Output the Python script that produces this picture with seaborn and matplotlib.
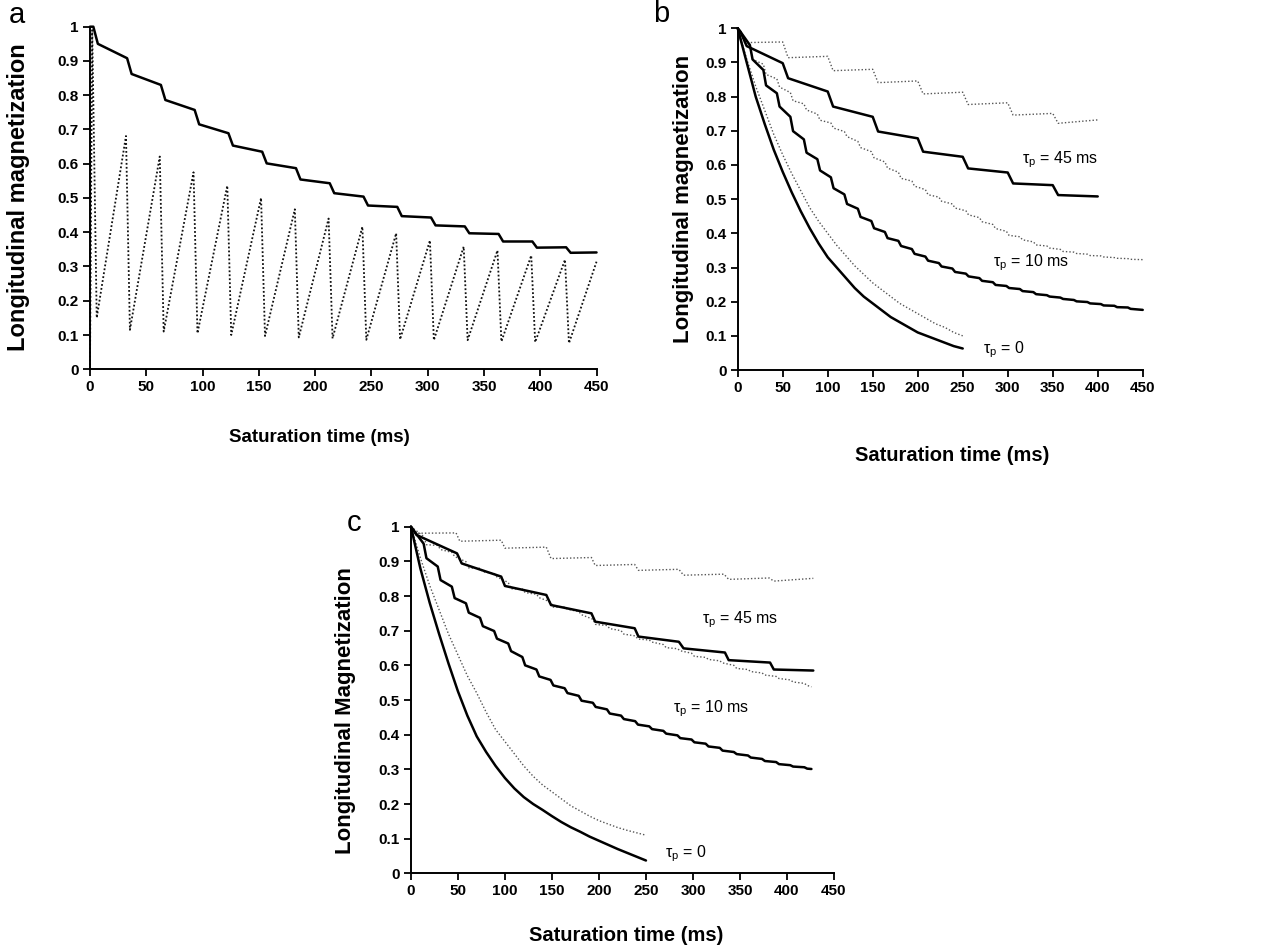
import numpy as np
import matplotlib
matplotlib.use("Agg")
import matplotlib.pyplot as plt
import seaborn as sns

# ---------------- values ----------------
x_ticks = [0, 50, 100, 150, 200, 250, 300, 350, 400, 450]
y_ticks = [0, 0.1, 0.2, 0.3, 0.4, 0.5, 0.6, 0.7, 0.8, 0.9, 1.0]
y_ticklabels = ['0', '0.1', '0.2', '0.3', '0.4', '0.5', '0.6', '0.7', '0.8', '0.9', '1']

# panel a
a_solid_t = [0, 3, 7, 33, 37, 63, 67, 93, 97, 123, 127, 153, 157, 183, 187, 213, 217,
             243, 247, 273, 277, 303, 307, 333, 337, 363, 367, 393, 397, 423, 427, 450]
a_solid_v = [1.0, 1.0, 0.950, 0.908, 0.862, 0.830, 0.786, 0.757, 0.715, 0.689, 0.653,
             0.635, 0.601, 0.587, 0.554, 0.543, 0.514, 0.504, 0.478, 0.474, 0.447, 0.443,
             0.420, 0.417, 0.397, 0.395, 0.373, 0.373, 0.355, 0.356, 0.340, 0.341]
a_dot_t = [0, 2, 6, 32, 35.5, 62, 65.5, 92, 95.5, 122, 125.5, 152, 155.5, 182, 185.5,
           212, 215.5, 242, 245.5, 272, 275.5, 302, 305.5, 332, 335.5, 362, 365.5, 392,
           395.5, 422, 425.5, 450]
a_dot_v = [0.0, 0.99, 0.15, 0.681, 0.115, 0.621, 0.11, 0.575, 0.105, 0.536, 0.10, 0.50,
           0.097, 0.467, 0.093, 0.44, 0.09, 0.416, 0.086, 0.397, 0.087, 0.376, 0.085,
           0.358, 0.085, 0.347, 0.081, 0.332, 0.079, 0.320, 0.076, 0.314]

# smooth tau_p = 0 curves (b and c), sampled every 10 ms
t0_t = [0, 10, 20, 30, 40, 50, 60, 70, 80, 90, 100, 110, 120, 130, 140, 150, 160, 170,
        180, 190, 200, 210, 220, 230, 240, 250]
b0_solid = [1.00, 0.90, 0.80, 0.72, 0.645, 0.58, 0.52, 0.465, 0.415, 0.37, 0.33, 0.30,
            0.27, 0.24, 0.215, 0.195, 0.175, 0.155, 0.14, 0.125, 0.11, 0.10, 0.09, 0.08,
            0.07, 0.063]
b0_dot = [1.00, 0.91, 0.83, 0.76, 0.69, 0.63, 0.575, 0.525, 0.475, 0.435, 0.40, 0.365,
          0.335, 0.305, 0.28, 0.255, 0.235, 0.215, 0.195, 0.18, 0.165, 0.15, 0.135, 0.125,
          0.11, 0.10]
c0_solid = [1.00, 0.88, 0.78, 0.69, 0.605, 0.525, 0.455, 0.395, 0.35, 0.31, 0.275, 0.245,
            0.22, 0.20, 0.183, 0.165, 0.148, 0.133, 0.12, 0.106, 0.094, 0.082, 0.07, 0.059,
            0.048, 0.037]
c0_dot = [1.00, 0.91, 0.83, 0.76, 0.69, 0.63, 0.57, 0.52, 0.465, 0.415, 0.38, 0.345, 0.31,
          0.28, 0.255, 0.235, 0.215, 0.195, 0.18, 0.165, 0.152, 0.142, 0.132, 0.124, 0.117,
          0.11]

# tau_p = 45 ms staircases
b45_solid_t = [0, 3, 10, 50, 56, 100, 106, 150, 156, 200, 206, 250, 256, 300, 306, 350, 356, 400]
b45_solid_v = [1.0, 0.99, 0.948, 0.898, 0.854, 0.815, 0.771, 0.741, 0.698, 0.678, 0.639,
               0.624, 0.590, 0.578, 0.546, 0.541, 0.512, 0.508]
b45_dot_t = [0, 4, 50, 56, 100, 106, 150, 156, 200, 206, 250, 256, 300, 306, 350, 356, 400]
b45_dot_v = [1.0, 0.958, 0.960, 0.914, 0.918, 0.876, 0.880, 0.841, 0.846, 0.808, 0.813,
             0.777, 0.782, 0.746, 0.751, 0.722, 0.732]
c45_solid_t = [0, 6, 49, 54, 96, 100, 144, 149, 192, 196, 238, 242, 285, 290, 334, 338, 382, 386, 428]
c45_solid_v = [1.0, 0.976, 0.923, 0.894, 0.856, 0.829, 0.803, 0.774, 0.750, 0.726, 0.707,
               0.683, 0.668, 0.649, 0.637, 0.615, 0.608, 0.588, 0.585]
c45_top_t = [0, 5, 48, 52, 96, 100, 144, 149, 192, 196, 238, 242, 285, 290, 333, 338, 381, 386, 428]
c45_top_v = [1.0, 0.981, 0.982, 0.958, 0.961, 0.938, 0.941, 0.908, 0.911, 0.888, 0.891,
             0.874, 0.877, 0.860, 0.863, 0.848, 0.852, 0.843, 0.851]

# fine staircases (tau_p = 10 ms etc.): value just before / after each small drop
steps_b = [15, 30, 45, 60, 75, 90, 105, 120, 135, 150, 165, 180, 195, 210, 225, 240, 255,
           270, 285, 300, 315, 330, 345, 360, 375, 390, 405, 420, 435]
b10_solid_hi = [.951, .878, .810, .741, .675, .617, .564, .514, .472, .436, .404, .378, .354,
                .332, .313, .297, .282, .269, .257, .246, .237, .228, .219, .212, .205, .199,
                .193, .188, .183]
b10_solid_lo = [.909, .833, .771, .699, .636, .584, .532, .486, .448, .415, .386, .363, .340,
                .320, .303, .287, .274, .261, .249, .240, .231, .222, .215, .208, .201, .195,
                .189, .184, .179]
b10_dot_hi = [.951, .895, .852, .812, .779, .749, .723, .698, .669, .639, .609, .579, .553,
              .528, .506, .486, .466, .446, .426, .406, .390, .375, .363, .353, .345, .339,
              .334, .329, .326]
b10_dot_lo = [.909, .865, .828, .788, .761, .731, .708, .683, .651, .621, .591, .561, .538,
              .513, .494, .474, .454, .434, .414, .394, .381, .366, .357, .347, .341, .335,
              .331, .327, .324]

steps_c = [15, 30, 45, 60, 75, 90, 105, 120, 135, 150, 165, 180, 195, 210, 225, 240, 255,
           270, 285, 300, 315, 330, 345, 360, 375, 390, 405, 420]
c10_solid_hi = [.951, .885, .827, .779, .737, .699, .663, .624, .588, .558, .534, .512, .492,
                .473, .455, .439, .424, .411, .398, .386, .374, .362, .350, .340, .330, .321,
                .312, .306]
c10_solid_lo = [.909, .846, .794, .752, .713, .677, .641, .600, .568, .542, .520, .498, .480,
                .461, .445, .429, .416, .403, .390, .378, .366, .354, .344, .334, .324, .315,
                .308, .302]
c45_dot_hi = [.972, .946, .926, .899, .880, .865, .839, .820, .805, .783, .768, .755, .733,
              .715, .700, .685, .673, .660, .648, .635, .623, .613, .600, .588, .578, .568,
              .558, .548]
c45_dot_lo = [.948, .934, .914, .881, .870, .855, .821, .810, .795, .768, .762, .746, .718,
              .706, .690, .676, .667, .651, .642, .626, .617, .607, .591, .582, .572, .562,
              .552, .542]


def stairs(start_t, start_v, steps, hi, lo, end_t, end_v, w=3.0):
    xs, ys = list(start_t), list(start_v)
    for s, h, l in zip(steps, hi, lo):
        xs += [s - w / 2, s + w / 2]
        ys += [h, l]
    xs.append(end_t)
    ys.append(end_v)
    return np.array(xs), np.array(ys)


b10s_x, b10s_y = stairs([0, 3], [1.0, 0.99], steps_b, b10_solid_hi, b10_solid_lo, 450, 0.176)
b10d_x, b10d_y = stairs([0, 3], [1.0, 0.99], steps_b, b10_dot_hi, b10_dot_lo, 450, 0.323)
c10s_x, c10s_y = stairs([0], [1.0], steps_c, c10_solid_hi, c10_solid_lo, 426, 0.301)
c45d_x, c45d_y = stairs([0], [1.0], steps_c, c45_dot_hi, c45_dot_lo, 426, 0.538)

# ---------------- drawing ----------------
sns.set_style("ticks")
plt.rcParams['font.family'] = ['Liberation Sans', 'DejaVu Sans']
plt.rcParams.update({'text.color': 'black', 'axes.labelcolor': 'black',
                     'xtick.color': 'black', 'ytick.color': 'black',
                     'axes.edgecolor': 'black'})

fig = plt.figure(figsize=(12.87, 9.5), dpi=100)
ax_a = fig.add_axes([0.0699, 0.6113, 0.3936, 0.3606])
ax_b = fig.add_axes([0.5732, 0.6105, 0.3147, 0.3597])
ax_c = fig.add_axes([0.3193, 0.0807, 0.3287, 0.3649])

SOLID = dict(color='black', linewidth=1.8, linestyle='-')
DOT_A = dict(color='#111111', linewidth=1.3, linestyle=(0, (1, 1.2)))
DOT = dict(color='#555555', linewidth=1.0, linestyle=(0, (1, 1.5)))


def line(ax, x, y, style):
    sns.lineplot(x=np.asarray(x), y=np.asarray(y), ax=ax, sort=False, estimator=None,
                 clip_on=False, **style)


line(ax_a, a_dot_t, a_dot_v, DOT_A)
line(ax_a, a_solid_t, a_solid_v, SOLID)

line(ax_b, b45_dot_t, b45_dot_v, DOT)
line(ax_b, b10d_x, b10d_y, DOT)
line(ax_b, t0_t, b0_dot, DOT)
line(ax_b, b45_solid_t, b45_solid_v, SOLID)
line(ax_b, b10s_x, b10s_y, SOLID)
line(ax_b, t0_t, b0_solid, SOLID)

line(ax_c, c45_top_t, c45_top_v, DOT)
line(ax_c, c45d_x, c45d_y, DOT)
line(ax_c, t0_t, c0_dot, DOT)
line(ax_c, c45_solid_t, c45_solid_v, SOLID)
line(ax_c, c10s_x, c10s_y, SOLID)
line(ax_c, t0_t, c0_solid, SOLID)

tp = 'τ$_\\mathregular{p}$'
ax_b.text(316, 0.615, tp + ' = 45 ms', fontsize=11.5, va='center')
ax_b.text(284, 0.315, tp + ' = 10 ms', fontsize=11.5, va='center')
ax_b.text(273, 0.06, tp + ' = 0', fontsize=11.5, va='center')
ax_c.text(310, 0.733, tp + ' = 45 ms', fontsize=11.5, va='center')
ax_c.text(279, 0.474, tp + ' = 10 ms', fontsize=11.5, va='center')
ax_c.text(270, 0.058, tp + ' = 0', fontsize=11.5, va='center')

ylabels = {ax_a: 'Longitudinal magnetization', ax_b: 'Longitudinal magnetization',
           ax_c: 'Longitudinal Magnetization'}
ylab_size = {ax_a: 17, ax_b: 16, ax_c: 16}
xlab_size = {ax_a: 13.5, ax_b: 14.5, ax_c: 14.5}
ylab_pos = {ax_a: (-0.142, 0.503), ax_b: (-0.135, 0.5), ax_c: (-0.154, 0.47)}
xlab_pos = {ax_a: (0.452, -0.2), ax_b: (0.53, -0.249), ax_c: (0.508, -0.178)}

for ax in (ax_a, ax_b, ax_c):
    ax.set_xlim(0, 450)
    ax.set_ylim(0, 1)
    ax.set_xticks(x_ticks)
    ax.set_xticklabels([str(v) for v in x_ticks])
    ax.set_yticks(y_ticks)
    ax.set_yticklabels(y_ticklabels)
    sns.despine(ax=ax)
    for s in ('left', 'bottom'):
        ax.spines[s].set_linewidth(1.4)
        ax.spines[s].set_color('black')
    ax.tick_params(direction='out', length=5, width=1.3, labelsize=11, pad=3,
                   color='black', labelcolor='black')
    for lab in ax.get_xticklabels() + ax.get_yticklabels():
        lab.set_fontweight('bold')
    ax.set_ylabel(ylabels[ax], fontsize=ylab_size[ax], fontweight='bold')
    ax.set_xlabel('Saturation time (ms)', fontsize=xlab_size[ax], fontweight='bold')
    ax.yaxis.set_label_coords(*ylab_pos[ax])
    ax.xaxis.set_label_coords(*xlab_pos[ax])
    ax.yaxis.label.set_va('center')
    ax.xaxis.label.set_va('center')

fig.text(0.0132, 0.984, 'a', fontsize=21, ha='center', va='center')
fig.text(0.514, 0.985, 'b', fontsize=21, ha='center', va='center')
fig.text(0.275, 0.449, 'c', fontsize=21, ha='center', va='center')

fig.savefig('out.png', dpi=100)
